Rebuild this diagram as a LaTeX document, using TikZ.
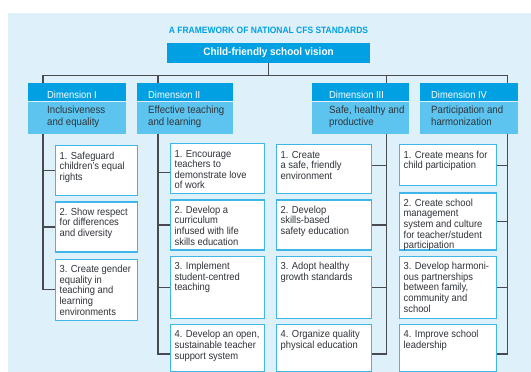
\documentclass[tikz,border=0pt]{standalone}
\usepackage{fontspec}
\setmainfont{Liberation Sans}[FakeStretch=0.92]
\usetikzlibrary{positioning}

\definecolor{panelblue}{RGB}{222,241,251}
\definecolor{headblue}{RGB}{0,160,227}
\definecolor{bodyblue}{RGB}{92,196,238}
\definecolor{edgeblue}{RGB}{62,182,232}
\definecolor{linegray}{RGB}{72,74,80}
\definecolor{textgray}{RGB}{48,52,58}

\newcommand{\subfont}{\fontsize{10.2}{10.6}\selectfont}
\newcommand{\dimfont}{\fontsize{10.5}{12.3}\selectfont}
% box text: width, height, lines
\newcommand{\boxtext}[3]{\parbox[t][#2pt][t]{#1pt}{\begin{tabular}[t]{@{}l@{}}#3\end{tabular}}}

\begin{document}
\begin{tikzpicture}[x=1pt,y=-1pt,
	link/.style={draw=linegray,line width=1.2pt},
	subbox/.style={draw=edgeblue,line width=1.3pt,fill=white,anchor=north west,
		inner xsep=4pt,inner ysep=6pt,font=\subfont,text=textgray},
	dimhead/.style={fill=headblue,anchor=north west,inner ysep=0pt,minimum height=18pt,
		text height=14pt,text depth=4pt,font=\fontsize{10.2}{11}\selectfont,text=white},
	dimbody/.style={fill=bodyblue,inner ysep=3pt,font=\dimfont,text=textgray}]
	\useasboundingbox (0,0) rectangle (531,372);
	\fill[panelblue] (8,13) rectangle (531,372);

	\node[anchor=base,font=\bfseries\fontsize{9.2}{10}\selectfont,text=headblue] (title) at (268.5,34) {A FRAMEWORK OF NATIONAL CFS STANDARDS};
	\node[fill=headblue,text=white,font=\bfseries\fontsize{10.8}{12}\selectfont,
		minimum width=203pt,minimum height=20pt,inner sep=0pt] (vision) at (268.5,53) {Child-friendly school vision};

	% dimensions
	\node[dimhead,inner xsep=19pt] (d1h) at (28,83) {\parbox{60pt}{Dimension I}};
	\node[dimbody,inner xsep=19pt,below=0pt of d1h] (d1) {\boxtext{60}{26}{Inclusiveness\\and equality}};
	\node[dimhead,inner xsep=11pt] (d2h) at (137,83) {\parbox{74pt}{Dimension II}};
	\node[dimbody,inner xsep=11pt,below=0pt of d2h] (d2) {\boxtext{74}{26}{Effective teaching\\and learning}};
	\node[dimhead,inner xsep=17pt] (d3h) at (312,83) {\parbox{63pt}{Dimension III}};
	\node[dimbody,inner xsep=17pt,below=0pt of d3h] (d3) {\boxtext{63}{26}{Safe, healthy and\\productive}};
	\node[dimhead,inner xsep=11pt] (d4h) at (420,83) {\parbox{76pt}{Dimension IV}};
	\node[dimbody,inner xsep=11pt,below=0pt of d4h] (d4) {\boxtext{76}{26}{Participation and\\harmonization}};

	% standards
	\node[subbox] (s11) at (55,145) {\boxtext{74}{38}{1. Safeguard\\children's equal\\rights}};
	\node[subbox,below=5pt of s11] (s12) {\boxtext{74}{38}{2. Show respect\\for differences\\and diversity}};
	\node[subbox,below=6pt of s12] (s13) {\boxtext{74}{49}{3. Create gender\\equality in\\teaching and\\learning\\environments}};

	\node[subbox] (s21) at (170,143) {\boxtext{86}{38}{1. Encourage\\teachers to\\demonstrate love\\of work}};
	\node[subbox,below=5pt of s21] (s22) {\boxtext{86}{38}{2. Develop a\\curriculum\\infused with life\\skills education}};
	\node[subbox,below=5pt of s22] (s23) {\boxtext{86}{50}{3. Implement\\student-centred\\teaching}};
	\node[subbox,below=5pt of s23] (s24) {\boxtext{86}{35}{4. Develop an open,\\sustainable teacher\\support system}};

	\node[subbox] (s31) at (276,144) {\boxtext{87}{37}{1. Create\\a safe, friendly\\environment}};
	\node[subbox,below=5pt of s31] (s32) {\boxtext{87}{38}{2. Develop\\skills-based\\safety education}};
	\node[subbox,below=5pt of s32] (s33) {\boxtext{87}{50}{3. Adopt healthy\\growth standards}};
	\node[subbox,below=5pt of s33] (s34) {\boxtext{87}{35}{4. Organize quality\\physical education}};

	\node[subbox] (s41) at (399,144) {\boxtext{89}{29}{1. Create means for\\child participation}};
	\node[subbox,below=6pt of s41] (s42) {\boxtext{89}{45}{2. Create school\\management\\system and culture\\for teacher/student\\participation}};
	\node[subbox,below=5pt of s42] (s43) {\boxtext{89}{50}{3. Develop harmoni-\\ous partnerships\\between family,\\community and\\school}};
	\node[subbox,below=5pt of s43] (s44) {\boxtext{89}{35}{4. Improve school\\leadership}};

	% tree lines
	\coordinate (bar) at ([yshift=-12pt]vision.south);
	\coordinate (t1) at ([xshift=15pt]d1.south west);
	\coordinate (t2) at ([xshift=21pt]d2.south west);
	\coordinate (t3) at ([xshift=-23pt]d3.south east);
	\coordinate (t4) at ([xshift=-11pt]d4.south east);
	\draw[link] (vision.south) -- (bar);
	\draw[link] (t1 |- d1h.north) |- (bar);
	\draw[link] (t4 |- d4h.north) |- (bar);
	\draw[link] (t2 |- d2h.north) -- (t2 |- bar);
	\draw[link] (t3 |- d3h.north) -- (t3 |- bar);

	\draw[link] (t1) |- (s11.west);
	\draw[link] (t1) |- (s12.west);
	\draw[link] (t1) |- (s13.west);
	\draw[link] (t2) |- ([yshift=-4pt]s21.west);
	\draw[link] (t2) |- (s22.west);
	\draw[link] (t2) |- (s23.west);
	\draw[link] (t2) |- ([yshift=-6pt]s24.west);
	\draw[link] (t3) |- ([yshift=4pt]s31.east);
	\draw[link] (t3) |- (s32.east);
	\draw[link] (t3) |- (s33.east);
	\draw[link] (t3) |- ([yshift=-6pt]s34.east);
	\draw[link] (t4) |- (s41.east);
	\draw[link] (t4) |- (s42.east);
	\draw[link] (t4) |- (s43.east);
	\draw[link] (t4) |- ([yshift=-6pt]s44.east);
\end{tikzpicture}
\end{document}
